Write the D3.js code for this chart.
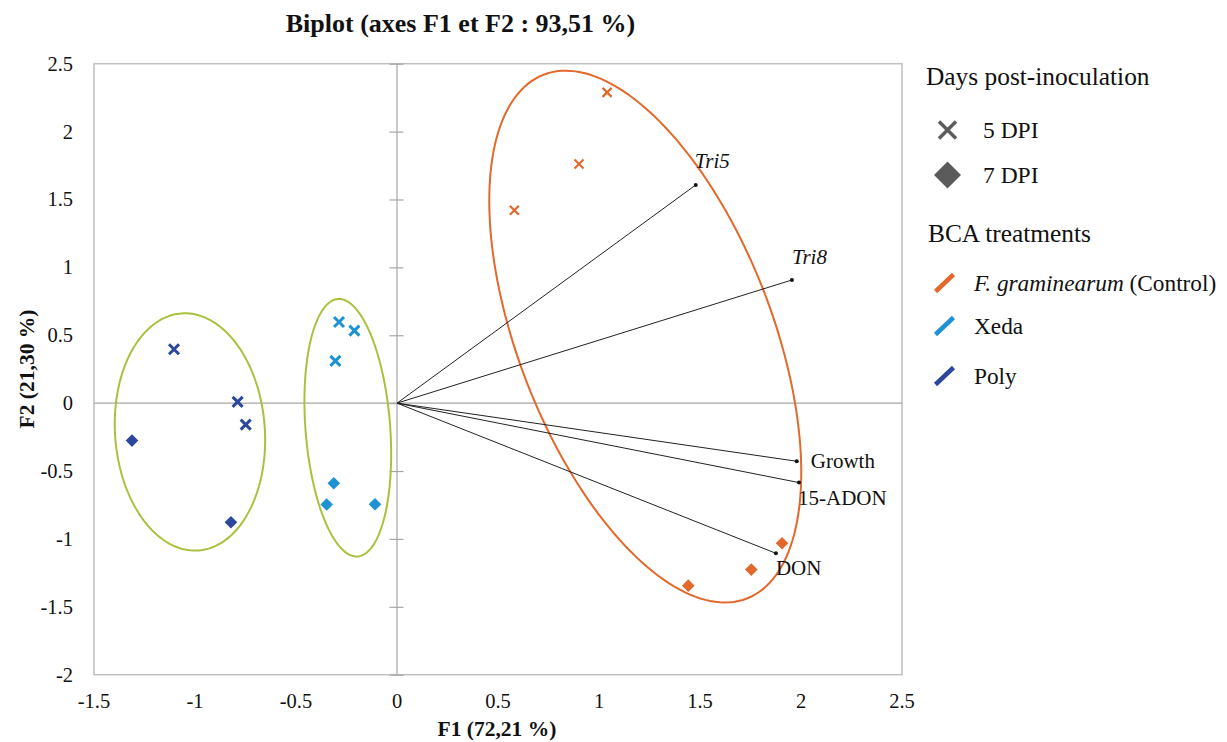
<!DOCTYPE html>
<html>
<head>
<meta charset="utf-8">
<script src="https://cdn.jsdelivr.net/npm/d3@7"></script>
<style>
  html, body { margin: 0; padding: 0; background: #fff; }
  svg, svg text { font-family: "Liberation Serif", "Times New Roman", Times, serif; }
</style>
</head>
<body>
<svg id="chart" width="1227" height="742"></svg>
<script>
// ---------------- DATA ----------------
const xTicks = [-1.5, -1, -0.5, 0, 0.5, 1, 1.5, 2, 2.5];
const yTicks = [-2, -1.5, -1, -0.5, 0, 0.5, 1, 1.5, 2, 2.5];
const xTickLabels = ["-1.5", "-1", "-0.5", "0", "0.5", "1", "1.5", "2", "2.5"];
const yTickLabels = ["-2", "-1.5", "-1", "-0.5", "0", "0.5", "1", "1.5", "2", "2.5"];

const treatments = ["Control", "Xeda", "Poly"];
const dpiGroups = ["5 DPI", "7 DPI"];

// observations: treatment, dpi, F1, F2
const controlF1 = [1.040, 0.901, 0.581, 1.906, 1.754, 1.442];
const controlF2 = [2.289, 1.761, 1.420, -1.032, -1.226, -1.344];
const controlDpi = ["5 DPI", "5 DPI", "5 DPI", "7 DPI", "7 DPI", "7 DPI"];

const xedaF1 = [-0.287, -0.211, -0.305, -0.313, -0.348, -0.109];
const xedaF2 = [0.598, 0.534, 0.311, -0.590, -0.747, -0.745];
const xedaDpi = ["5 DPI", "5 DPI", "5 DPI", "7 DPI", "7 DPI", "7 DPI"];

const polyF1 = [-1.104, -0.789, -0.749, -1.312, -0.822];
const polyF2 = [0.397, 0.009, -0.158, -0.276, -0.877];
const polyDpi = ["5 DPI", "5 DPI", "5 DPI", "7 DPI", "7 DPI"];

// variable vectors
const varNames = ["Tri5", "Tri8", "Growth", "15-ADON", "DON"];
const varF1 = [1.479, 1.955, 1.979, 1.990, 1.876];
const varF2 = [1.607, 0.907, -0.428, -0.585, -1.106];

// group ellipses: center + two conjugate semi-axis vectors (data units)
const ellipseNames = ["Control", "Xeda", "Poly"];
const ellipseCx = [1.229, -0.2436, -1.025];
const ellipseCy = [0.490, -0.181, -0.212];
const ellipseAx = [-0.503, -0.0488, -0.041];
const ellipseAy = [1.929, 0.948, 0.873];
const ellipseBx = [0.586, 0.209, 0.370];
const ellipseBy = [0.338, 0.0238, 0.038];

// ---------------- STYLE ----------------
const FONT = "'Liberation Serif', 'Times New Roman', Times, serif";
const colors = { Control: "#E2692B", Xeda: "#1E92D2", Poly: "#2C479C" };
const ellipseColors = { Control: "#E2692B", Xeda: "#A9C23E", Poly: "#A9C23E" };
const labelOffsets = {
  "Tri5": [-1, -17], "Tri8": [0, -16], "Growth": [14, 7],
  "15-ADON": [-1, 22], "DON": [0, 22]
};
const italicVars = new Set(["Tri5", "Tri8"]);

const plot = { left: 94, right: 902, top: 63.7, bottom: 674.7 };

const svg = d3.select("#chart").attr("font-family", FONT);

const x = d3.scaleLinear().domain([-1.5, 2.5]).range([plot.left, plot.right]);
const y = d3.scaleLinear().domain([-2, 2.5]).range([plot.bottom, plot.top]);

// frame
svg.append("rect")
  .attr("x", plot.left).attr("y", plot.top)
  .attr("width", plot.right - plot.left).attr("height", plot.bottom - plot.top)
  .attr("fill", "none").attr("stroke", "#BFBFBF").attr("stroke-width", 1.5);

// zero lines
svg.append("line")
  .attr("x1", plot.left).attr("x2", plot.right)
  .attr("y1", y(0)).attr("y2", y(0))
  .attr("stroke", "#A6A6A6").attr("stroke-width", 1.2);
svg.append("line")
  .attr("x1", x(0)).attr("x2", x(0))
  .attr("y1", plot.top).attr("y2", plot.bottom)
  .attr("stroke", "#A6A6A6").attr("stroke-width", 1.2);

// y ticks on vertical zero axis (crossing)
const yAxisG = svg.append("g").attr("transform", `translate(${x(0) + 6.5},0)`);
yAxisG.call(d3.axisLeft(y).tickValues(yTicks).tickSize(14).tickFormat(""))
  .call(g => g.select(".domain").remove())
  .call(g => g.selectAll(".tick line").attr("stroke", "#A6A6A6").attr("stroke-width", 1.2));

// y tick labels at left
svg.append("g").selectAll("text")
  .data(yTicks)
  .join("text")
  .attr("font-family", FONT)
  .attr("x", 73)
  .attr("y", d => y(d))
  .attr("dy", "0.34em")
  .attr("text-anchor", "end")
  .attr("font-size", 20.5)
  .attr("fill", "#111")
  .text((d, i) => yTickLabels[i]);

// x tick labels at bottom
svg.append("g").selectAll("text")
  .data(xTicks)
  .join("text")
  .attr("font-family", FONT)
  .attr("x", d => x(d))
  .attr("y", 708)
  .attr("text-anchor", "middle")
  .attr("font-size", 20.5)
  .attr("fill", "#111")
  .text((d, i) => xTickLabels[i]);

// title
svg.append("text")
  .attr("font-family", FONT)
  .attr("x", 460.5).attr("y", 32)
  .attr("text-anchor", "middle")
  .attr("font-weight", "bold")
  .attr("font-size", 26)
  .attr("fill", "#111")
  .text("Biplot (axes F1 et F2 : 93,51 %)");

// axis titles
svg.append("text")
  .attr("font-family", FONT)
  .attr("x", 497).attr("y", 736)
  .attr("text-anchor", "middle")
  .attr("font-weight", "bold")
  .attr("font-size", 21.5)
  .attr("fill", "#111")
  .text("F1 (72,21 %)");
svg.append("text")
  .attr("font-family", FONT)
  .attr("transform", `translate(34,369) rotate(-90)`)
  .attr("text-anchor", "middle")
  .attr("font-weight", "bold")
  .attr("font-size", 21.5)
  .attr("fill", "#111")
  .text("F2 (21,30 %)");

// ellipses
const tSteps = d3.range(0, 2 * Math.PI, Math.PI / 90);
const ellLine = d3.line().curve(d3.curveLinearClosed);
ellipseNames.forEach((name, i) => {
  const pts = tSteps.map(t => [
    x(ellipseCx[i] + ellipseAx[i] * Math.cos(t) + ellipseBx[i] * Math.sin(t)),
    y(ellipseCy[i] + ellipseAy[i] * Math.cos(t) + ellipseBy[i] * Math.sin(t))
  ]);
  svg.append("path")
    .attr("d", ellLine(pts))
    .attr("fill", "none")
    .attr("stroke", ellipseColors[name])
    .attr("stroke-width", 2);
});

// vectors
const vars = varNames.map((n, i) => ({ name: n, f1: varF1[i], f2: varF2[i] }));
svg.append("g").selectAll("line")
  .data(vars).join("line")
  .attr("x1", x(0)).attr("y1", y(0))
  .attr("x2", d => x(d.f1)).attr("y2", d => y(d.f2))
  .attr("stroke", "#222").attr("stroke-width", 1);
svg.append("g").selectAll("circle")
  .data(vars).join("circle")
  .attr("cx", d => x(d.f1)).attr("cy", d => y(d.f2))
  .attr("r", 2).attr("fill", "#111");
svg.append("g").selectAll("text")
  .data(vars).join("text")
  .attr("font-family", FONT)
  .attr("x", d => x(d.f1) + labelOffsets[d.name][0])
  .attr("y", d => y(d.f2) + labelOffsets[d.name][1])
  .attr("font-size", 21)
  .attr("font-style", d => italicVars.has(d.name) ? "italic" : "normal")
  .attr("fill", "#111")
  .text(d => d.name);

// observations
const obs = [];
controlF1.forEach((v, i) => obs.push({ t: "Control", dpi: controlDpi[i], f1: v, f2: controlF2[i] }));
xedaF1.forEach((v, i) => obs.push({ t: "Xeda", dpi: xedaDpi[i], f1: v, f2: xedaF2[i] }));
polyF1.forEach((v, i) => obs.push({ t: "Poly", dpi: polyDpi[i], f1: v, f2: polyF2[i] }));

const crossPath = s => `M${-s},${-s}L${s},${s}M${-s},${s}L${s},${-s}`;
const diamondPath = s => `M0,${-s}L${s},0L0,${s}L${-s},0Z`;

const obsG = svg.append("g");
obs.forEach(d => {
  const g = obsG.append("g").attr("transform", `translate(${x(d.f1)},${y(d.f2)})`);
  if (d.dpi === "5 DPI") {
    g.append("path").attr("d", crossPath(d.t === "Control" ? 4.5 : 5))
      .attr("fill", "none").attr("stroke", colors[d.t])
      .attr("stroke-width", d.t === "Control" ? 2.2 : 3);
  } else {
    g.append("path").attr("d", diamondPath(6.3)).attr("fill", colors[d.t]);
  }
});

// ---------------- LEGEND ----------------
const leg = svg.append("g");
leg.append("text").attr("font-family", FONT)
  .attr("x", 926).attr("y", 85).attr("font-size", 25.4).attr("fill", "#111")
  .text("Days post-inoculation");
const dpiLegY = [130, 175];
dpiGroups.forEach((g, i) => {
  const m = leg.append("g").attr("transform", `translate(947.5,${dpiLegY[i]})`);
  if (i === 0) {
    m.append("path").attr("d", crossPath(8.5)).attr("fill", "none")
      .attr("stroke", "#5B5B5B").attr("stroke-width", 3.5);
  } else {
    m.append("path").attr("d", diamondPath(13.5)).attr("fill", "#5B5B5B");
  }
  leg.append("text").attr("font-family", FONT)
    .attr("x", 983).attr("y", dpiLegY[i] + 7.5)
    .attr("font-size", 23.5).attr("fill", "#111").text(g);
});

leg.append("text").attr("font-family", FONT)
  .attr("x", 928).attr("y", 242).attr("font-size", 25.4).attr("fill", "#111")
  .text("BCA treatments");
const trtLegY = [283, 326, 376];
treatments.forEach((t, i) => {
  const cy = trtLegY[i];
  leg.append("line")
    .attr("x1", 935.5).attr("y1", cy + 8.5)
    .attr("x2", 953.5).attr("y2", cy - 8.5)
    .attr("stroke", colors[t]).attr("stroke-width", 4.5);
  const txt = leg.append("text").attr("font-family", FONT)
    .attr("x", 974).attr("y", cy + 8)
    .attr("font-size", 23.3).attr("fill", "#111");
  if (t === "Control") {
    txt.append("tspan").attr("font-style", "italic").text("F. graminearum");
    txt.append("tspan").text(" (Control)");
  } else {
    txt.text(t);
  }
});
</script>
</body>
</html>
